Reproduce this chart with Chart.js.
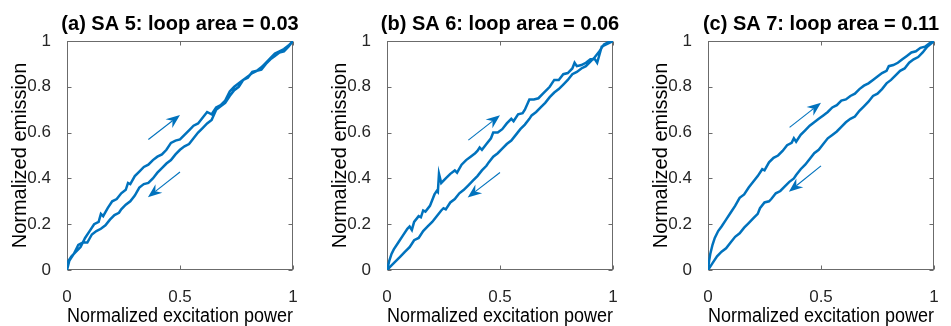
<!DOCTYPE html>
<html>
<head>
<meta charset="utf-8">
<script src="https://cdn.jsdelivr.net/npm/chart.js@4.4.1/dist/chart.umd.min.js"></script>
<style>
  body { margin: 0; background: #fff; width: 951px; height: 326px; overflow: hidden; position: relative; }
  .panel { position: absolute; top: 0; width: 310px; height: 326px; }
</style>
</head>
<body>
<div class="panel" style="left:0px"><canvas id="sa5" width="310" height="326"></canvas></div>
<div class="panel" style="left:320px"><canvas id="sa6" width="310" height="326"></canvas></div>
<div class="panel" style="left:641px"><canvas id="sa7" width="310" height="326"></canvas></div>
<script>
// tick values, shared by all three panels
const xTicks = [0, 0.5, 1];
const yTicks = [0, 0.2, 0.4, 0.6, 0.8, 1];

const titles = ['(a) SA 5: loop area = 0.03', '(b) SA 6: loop area = 0.06', '(c) SA 7: loop area = 0.11'];

// [power, emission]: increasing branch, then decreasing branch
const sa5Up = [[0,0.03],[0.02,0.06],[0.04,0.08],[0.06,0.1],[0.08,0.14],[0.1,0.17],[0.12,0.2],[0.14,0.21],[0.15,0.245],[0.16,0.235],
  [0.18,0.27],[0.2,0.3],[0.22,0.31],[0.24,0.335],[0.26,0.35],[0.27,0.38],[0.28,0.375],[0.3,0.41],[0.32,0.43],[0.34,0.45],
  [0.36,0.46],[0.38,0.48],[0.4,0.495],[0.42,0.505],[0.44,0.525],[0.46,0.555],[0.48,0.565],[0.5,0.57],[0.52,0.59],[0.54,0.61],
  [0.56,0.63],[0.58,0.64],[0.6,0.665],[0.62,0.69],[0.64,0.68],[0.66,0.71],[0.68,0.72],[0.7,0.74],[0.72,0.78],[0.74,0.8],
  [0.76,0.815],[0.78,0.83],[0.8,0.84],[0.82,0.865],[0.84,0.87],[0.86,0.885],[0.88,0.905],[0.9,0.925],[0.92,0.945],[0.94,0.955],
  [0.96,0.965],[0.98,0.98],[1,1]];
const sa5Down = [[0,0],[0.01,0.04],[0.03,0.07],[0.05,0.11],[0.07,0.12],[0.09,0.12],[0.11,0.155],[0.13,0.17],[0.15,0.18],[0.17,0.195],
  [0.19,0.22],[0.21,0.24],[0.23,0.25],[0.24,0.265],[0.26,0.285],[0.28,0.3],[0.3,0.325],[0.32,0.36],[0.34,0.375],[0.36,0.38],
  [0.38,0.4],[0.4,0.425],[0.42,0.445],[0.44,0.465],[0.46,0.48],[0.48,0.505],[0.5,0.525],[0.52,0.54],[0.54,0.55],[0.56,0.575],
  [0.58,0.6],[0.6,0.62],[0.62,0.64],[0.64,0.655],[0.66,0.7],[0.68,0.715],[0.7,0.73],[0.72,0.76],[0.74,0.785],[0.76,0.8],
  [0.78,0.83],[0.8,0.845],[0.82,0.86],[0.84,0.87],[0.86,0.875],[0.88,0.9],[0.9,0.92],[0.92,0.935],[0.94,0.95],[0.96,0.955],
  [0.98,0.975],[1,1]];

const sa6Up = [[0,0],[0.01,0.04],[0.02,0.07],[0.03,0.09],[0.05,0.12],[0.07,0.15],[0.09,0.18],[0.1,0.19],[0.11,0.175],[0.12,0.21],
  [0.14,0.235],[0.15,0.23],[0.16,0.26],[0.17,0.255],[0.19,0.28],[0.21,0.33],[0.22,0.345],[0.225,0.34],[0.23,0.42],[0.24,0.38],
  [0.26,0.4],[0.28,0.42],[0.3,0.435],[0.31,0.425],[0.33,0.46],[0.35,0.48],[0.37,0.495],[0.39,0.51],[0.4,0.52],[0.41,0.535],
  [0.42,0.525],[0.44,0.55],[0.46,0.575],[0.47,0.6],[0.49,0.6],[0.51,0.615],[0.53,0.64],[0.55,0.66],[0.56,0.65],[0.58,0.68],
  [0.6,0.685],[0.61,0.7],[0.63,0.745],[0.65,0.745],[0.67,0.75],[0.69,0.77],[0.71,0.79],[0.72,0.8],[0.74,0.83],[0.76,0.83],
  [0.78,0.855],[0.8,0.86],[0.82,0.88],[0.83,0.905],[0.84,0.89],[0.86,0.895],[0.88,0.905],[0.9,0.92],[0.92,0.92],[0.93,0.905],
  [0.94,0.94],[0.95,0.975],[0.97,0.985],[1,1]];
const sa6Down = [[0,0],[0.02,0.02],[0.04,0.04],[0.06,0.06],[0.08,0.08],[0.1,0.1],[0.12,0.13],[0.14,0.14],[0.16,0.17],[0.18,0.19],
  [0.2,0.21],[0.22,0.235],[0.24,0.26],[0.25,0.27],[0.26,0.265],[0.28,0.295],[0.3,0.31],[0.32,0.335],[0.34,0.35],[0.36,0.37],
  [0.38,0.39],[0.4,0.41],[0.42,0.435],[0.44,0.455],[0.45,0.47],[0.47,0.495],[0.49,0.51],[0.51,0.53],[0.53,0.55],[0.55,0.565],
  [0.57,0.59],[0.59,0.615],[0.61,0.635],[0.63,0.66],[0.64,0.675],[0.66,0.69],[0.68,0.71],[0.7,0.73],[0.72,0.755],[0.74,0.775],
  [0.76,0.79],[0.78,0.81],[0.8,0.83],[0.82,0.855],[0.84,0.865],[0.86,0.88],[0.88,0.89],[0.9,0.91],[0.92,0.93],[0.94,0.955],
  [0.96,0.985],[0.98,0.995],[1,1]];

const sa7Up = [[0,0],[0.005,0.04],[0.01,0.07],[0.02,0.11],[0.03,0.14],[0.045,0.17],[0.06,0.19],[0.08,0.22],[0.1,0.25],[0.12,0.28],
  [0.14,0.315],[0.16,0.33],[0.18,0.36],[0.2,0.385],[0.22,0.41],[0.24,0.44],[0.25,0.435],[0.27,0.47],[0.29,0.49],[0.31,0.5],
  [0.33,0.52],[0.35,0.545],[0.37,0.555],[0.38,0.575],[0.39,0.56],[0.41,0.59],[0.43,0.61],[0.45,0.63],[0.47,0.645],[0.49,0.66],
  [0.51,0.675],[0.53,0.69],[0.55,0.71],[0.57,0.72],[0.59,0.74],[0.61,0.745],[0.63,0.76],[0.65,0.77],[0.67,0.79],[0.69,0.805],
  [0.71,0.815],[0.73,0.83],[0.75,0.845],[0.77,0.86],[0.79,0.87],[0.8,0.89],[0.82,0.895],[0.84,0.905],[0.86,0.92],[0.88,0.935],
  [0.9,0.95],[0.92,0.955],[0.94,0.97],[0.96,0.975],[0.98,0.99],[1,1]];
const sa7Down = [[0,0],[0.01,0.015],[0.02,0.03],[0.04,0.06],[0.06,0.08],[0.08,0.095],[0.1,0.12],[0.12,0.145],[0.14,0.16],[0.16,0.185],
  [0.18,0.205],[0.2,0.225],[0.22,0.245],[0.23,0.27],[0.25,0.295],[0.27,0.3],[0.28,0.31],[0.3,0.335],[0.32,0.345],[0.34,0.365],
  [0.36,0.385],[0.38,0.4],[0.39,0.415],[0.41,0.44],[0.43,0.46],[0.45,0.485],[0.47,0.51],[0.49,0.525],[0.51,0.55],[0.53,0.575],
  [0.55,0.59],[0.57,0.605],[0.59,0.625],[0.61,0.645],[0.63,0.66],[0.65,0.67],[0.67,0.695],[0.69,0.715],[0.71,0.735],[0.73,0.76],
  [0.75,0.77],[0.77,0.79],[0.79,0.815],[0.81,0.83],[0.83,0.85],[0.85,0.87],[0.87,0.88],[0.89,0.905],[0.91,0.92],[0.93,0.93],
  [0.95,0.95],[0.97,0.975],[1,1]];

// direction arrows, [x0, y0, x1, y1] in data units
const sa5Arrows = [[0.36, 0.57, 0.5, 0.677], [0.5, 0.428, 0.358, 0.318]];
const sa6Arrows = [[0.36, 0.567, 0.5, 0.676], [0.5, 0.426, 0.357, 0.317]];
const sa7Arrows = [[0.361, 0.623, 0.5, 0.73], [0.5, 0.455, 0.358, 0.342]];

const blue = '#0072BD';
const axisGrey = '#6b6b6b';
const textColor = '#262626';
const fontFamily = '"Liberation Sans", Arial, sans-serif';

const matlabAxes = {
  id: 'matlabAxes',
  beforeDatasetsDraw(chart) {
    const { ctx, chartArea: a, scales: { x, y } } = chart;
    const L = Math.round(a.left) + 0.5, R = Math.round(a.right) - 0.5;
    const T = Math.round(a.top) + 0.5, B = Math.round(a.bottom) - 0.5;
    ctx.save();
    ctx.strokeStyle = axisGrey;
    ctx.lineWidth = 1;
    ctx.strokeRect(L, T, R - L, B - T);
    ctx.beginPath();
    xTicks.forEach(v => {
      const px = Math.round(x.getPixelForValue(v)) + 0.5;
      ctx.moveTo(px, B); ctx.lineTo(px, B - 4);
      ctx.moveTo(px, T); ctx.lineTo(px, T + 4);
    });
    yTicks.forEach(v => {
      const py = Math.round(y.getPixelForValue(v)) + 0.5;
      ctx.moveTo(L, py); ctx.lineTo(L + 4, py);
      ctx.moveTo(R, py); ctx.lineTo(R - 4, py);
    });
    ctx.stroke();
    ctx.restore();
  },
  afterDatasetsDraw(chart, args, opts) {
    const { ctx, chartArea: a, scales: { x, y } } = chart;
    ctx.save();
    ctx.strokeStyle = blue;
    ctx.fillStyle = blue;
    opts.arrows.forEach(([x0, y0, x1, y1]) => {
      const p0x = x.getPixelForValue(x0), p0y = y.getPixelForValue(y0);
      const p1x = x.getPixelForValue(x1), p1y = y.getPixelForValue(y1);
      const ang = Math.atan2(p1y - p0y, p1x - p0x);
      const len = 14, half = 5.5, notch = 4.5;
      ctx.lineWidth = 1.1;
      ctx.beginPath();
      ctx.moveTo(p0x, p0y);
      ctx.lineTo(p1x - Math.cos(ang) * (len - notch), p1y - Math.sin(ang) * (len - notch));
      ctx.stroke();
      // head with swept-back wings
      ctx.translate(p1x, p1y);
      ctx.rotate(ang);
      ctx.beginPath();
      ctx.moveTo(0, 0);
      ctx.lineTo(-len, -half);
      ctx.lineTo(-len + notch, 0);
      ctx.lineTo(-len, half);
      ctx.closePath();
      ctx.fill();
      ctx.setTransform(1, 0, 0, 1, 0, 0);
    });
    ctx.fillStyle = '#000';
    ctx.font = 'bold 20px ' + fontFamily;
    ctx.textAlign = 'center';
    ctx.textBaseline = 'middle';
    ctx.fillText(opts.title, (a.left + a.right) / 2, 24);
    ctx.restore();
  }
};

function drawPanel(id, title, up, down, arrows) {
  const loop = up.concat(down.slice().reverse()).map(([px, py]) => ({ x: px, y: py }));
  new Chart(document.getElementById(id), {
    type: 'scatter',
    data: {
      datasets: [{
        data: loop,
        showLine: true,
        borderColor: blue,
        borderWidth: 2.5,
        pointRadius: 0,
        tension: 0
      }]
    },
    options: {
      responsive: false,
      animation: false,
      devicePixelRatio: 1,
      layout: { padding: { top: 41, right: 17, bottom: 0, left: 0 } },
      plugins: {
        legend: { display: false },
        tooltip: { enabled: false },
        matlabAxes: { title, arrows }
      },
      scales: {
        x: {
          type: 'linear', min: 0, max: 1,
          grid: { display: false }, border: { display: false },
          afterBuildTicks: s => { s.ticks = xTicks.map(v => ({ value: v })); },
          afterFit: s => { s.height = 56; },
          ticks: { padding: 9, color: textColor, maxRotation: 0, callback: v => String(v),
            font: { family: fontFamily, size: 17 } },
          title: { display: true, text: 'Normalized excitation power', color: '#000',
            padding: { top: 0, bottom: 0 },
            font: { family: fontFamily, size: 20, lineHeight: 1 } }
        },
        y: {
          type: 'linear', min: 0, max: 1,
          grid: { display: false }, border: { display: false },
          afterBuildTicks: s => { s.ticks = yTicks.map(v => ({ value: v })); },
          afterFit: s => { s.width = 67; },
          ticks: { padding: 8, color: textColor, callback: v => String(v),
            font: { family: fontFamily, size: 17 } },
          title: { display: true, text: 'Normalized emission', color: '#000',
            padding: { top: 10.5, bottom: 0 },
            font: { family: fontFamily, size: 20, lineHeight: 1 } }
        }
      }
    },
    plugins: [matlabAxes]
  });
}

drawPanel('sa5', titles[0], sa5Up, sa5Down, sa5Arrows);
drawPanel('sa6', titles[1], sa6Up, sa6Down, sa6Arrows);
drawPanel('sa7', titles[2], sa7Up, sa7Down, sa7Arrows);
</script>
</body>
</html>
